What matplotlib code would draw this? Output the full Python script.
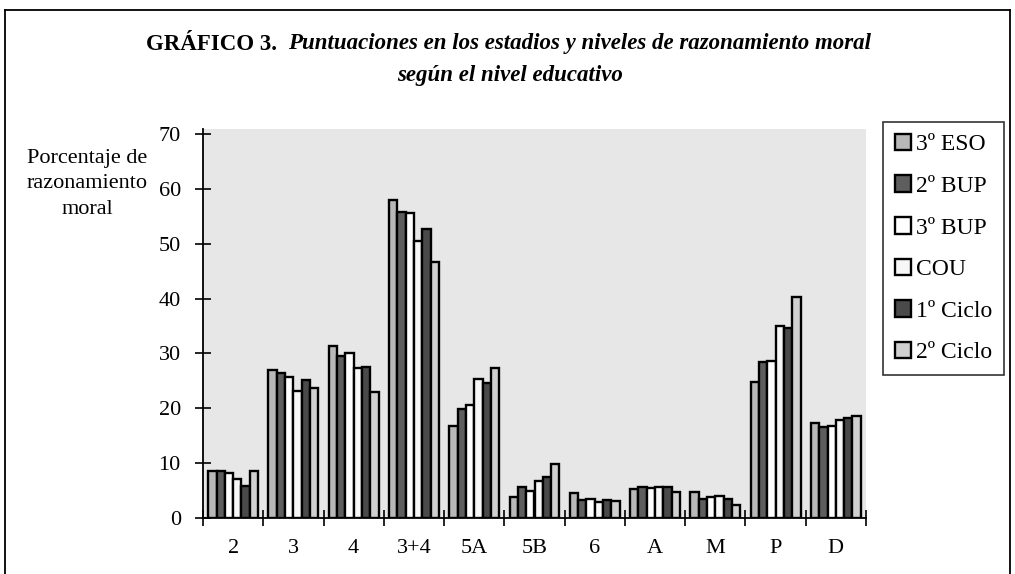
import matplotlib
matplotlib.use("Agg")
import matplotlib.pyplot as plt
from matplotlib.lines import Line2D
import numpy as np

plt.rcParams['font.family'] = ['Liberation Serif', 'DejaVu Serif']

categories = ['2', '3', '4', '3+4', '5A', '5B', '6', 'A', 'M', 'P', 'D']
series_names = ['3º ESO', '2º BUP', '3º BUP', 'COU', '1º Ciclo', '2º Ciclo']

eso_3 = [8.5, 26.9, 31.3, 58.0, 16.8, 3.8, 4.6, 5.3, 4.7, 24.8, 17.4]
bup_2 = [8.5, 26.4, 29.5, 55.8, 19.9, 5.6, 3.3, 5.7, 3.5, 28.4, 16.6]
bup_3 = [8.2, 25.7, 30.0, 55.6, 20.6, 5.0, 3.5, 5.5, 3.9, 28.7, 16.7]
cou = [7.1, 23.2, 27.4, 50.4, 25.4, 6.7, 3.0, 5.7, 4.0, 35.0, 17.8]
ciclo_1 = [5.9, 25.1, 27.6, 52.6, 24.6, 7.5, 3.3, 5.7, 3.5, 34.7, 18.3]
ciclo_2 = [8.5, 23.7, 23.0, 46.7, 27.3, 9.9, 3.1, 4.7, 2.3, 40.2, 18.6]

all_series = [eso_3, bup_2, bup_3, cou, ciclo_1, ciclo_2]
colors = ['#b8b8b8', '#5e5e5e', '#ffffff', '#f7f7f7', '#4a4a4a', '#d0d0d0']

W, H = 1015, 574
fig = plt.figure(figsize=(W / 100, H / 100), dpi=100)
ax = fig.add_axes([203 / W, 1 - 518 / H, (866 - 203) / W, (518 - 129) / H])
ax.set_facecolor('#e7e7e7')

x = np.arange(len(categories))
bw = 0.138
for i, (vals, c) in enumerate(zip(all_series, colors)):
    ax.bar(x + (i - 2.5) * bw, vals, width=bw, color=c, edgecolor='black',
           linewidth=1.7, label=series_names[i], zorder=3)

ax.set_xlim(-0.5, len(categories) - 0.5)
ax.set_ylim(0, 70.9)
ax.set_yticks(range(0, 71, 10))
ax.set_xticks(x, categories)
ax.set_xticks(np.arange(-0.5, len(categories)), minor=True)
ax.tick_params(axis='x', which='major', length=0, pad=15, labelsize=16)
ax.tick_params(axis='x', which='minor', length=12, width=1.2, direction='inout')
ax.tick_params(axis='y', length=12, width=1.2, direction='inout', pad=10, labelsize=16)
for s in ['top', 'right']:
    ax.spines[s].set_visible(False)
ax.spines['left'].set_linewidth(1.3)
ax.spines['bottom'].set_linewidth(1.3)

fig.text(87 / W, 1 - 184 / H, 'Porcentaje de\nrazonamiento\nmoral', ha='center',
         va='center', fontsize=16, linespacing=1.45)

leg = fig.legend(loc='upper left', bbox_to_anchor=(883 / W, 1 - 122 / H),
                 fontsize=17, frameon=True, fancybox=False, edgecolor='black',
                 handlelength=0.7, handleheight=0.7, handletextpad=0.2,
                 labelspacing=0.85, borderpad=0.5, borderaxespad=0)
leg.get_frame().set_linewidth(1.2)

# title: bold part + bold italic part, centred together
renderer = fig.canvas.get_renderer()
t1 = fig.text(0, 1 - 44 / H, 'GRÁFICO 3.  ', fontsize=16.5, fontweight='bold', va='center')
t2 = fig.text(0, 1 - 44 / H, 'Puntuaciones en los estadios y niveles de razonamiento moral',
              fontsize=16.5, fontweight='bold', style='italic', va='center')
w1 = t1.get_window_extent(renderer).width
w2 = t2.get_window_extent(renderer).width
x0 = (W / 2 + 1 - (w1 + w2) / 2)
t1.set_x(x0 / W)
t2.set_x((x0 + w1) / W)
fig.text((W / 2 + 3) / W, 1 - 76 / H, 'según el nivel educativo', fontsize=16.5,
         fontweight='bold', style='italic', ha='center', va='center')

# outer frame of the figure box
for xs, ys in [([5, 5], [10, H]), ([5, 1010], [10, 10]), ([1010, 1010], [10, H])]:
    fig.add_artist(Line2D(np.array(xs) / W, 1 - np.array(ys) / H, color='black', lw=1.3))

fig.savefig('out.png', dpi=100)
